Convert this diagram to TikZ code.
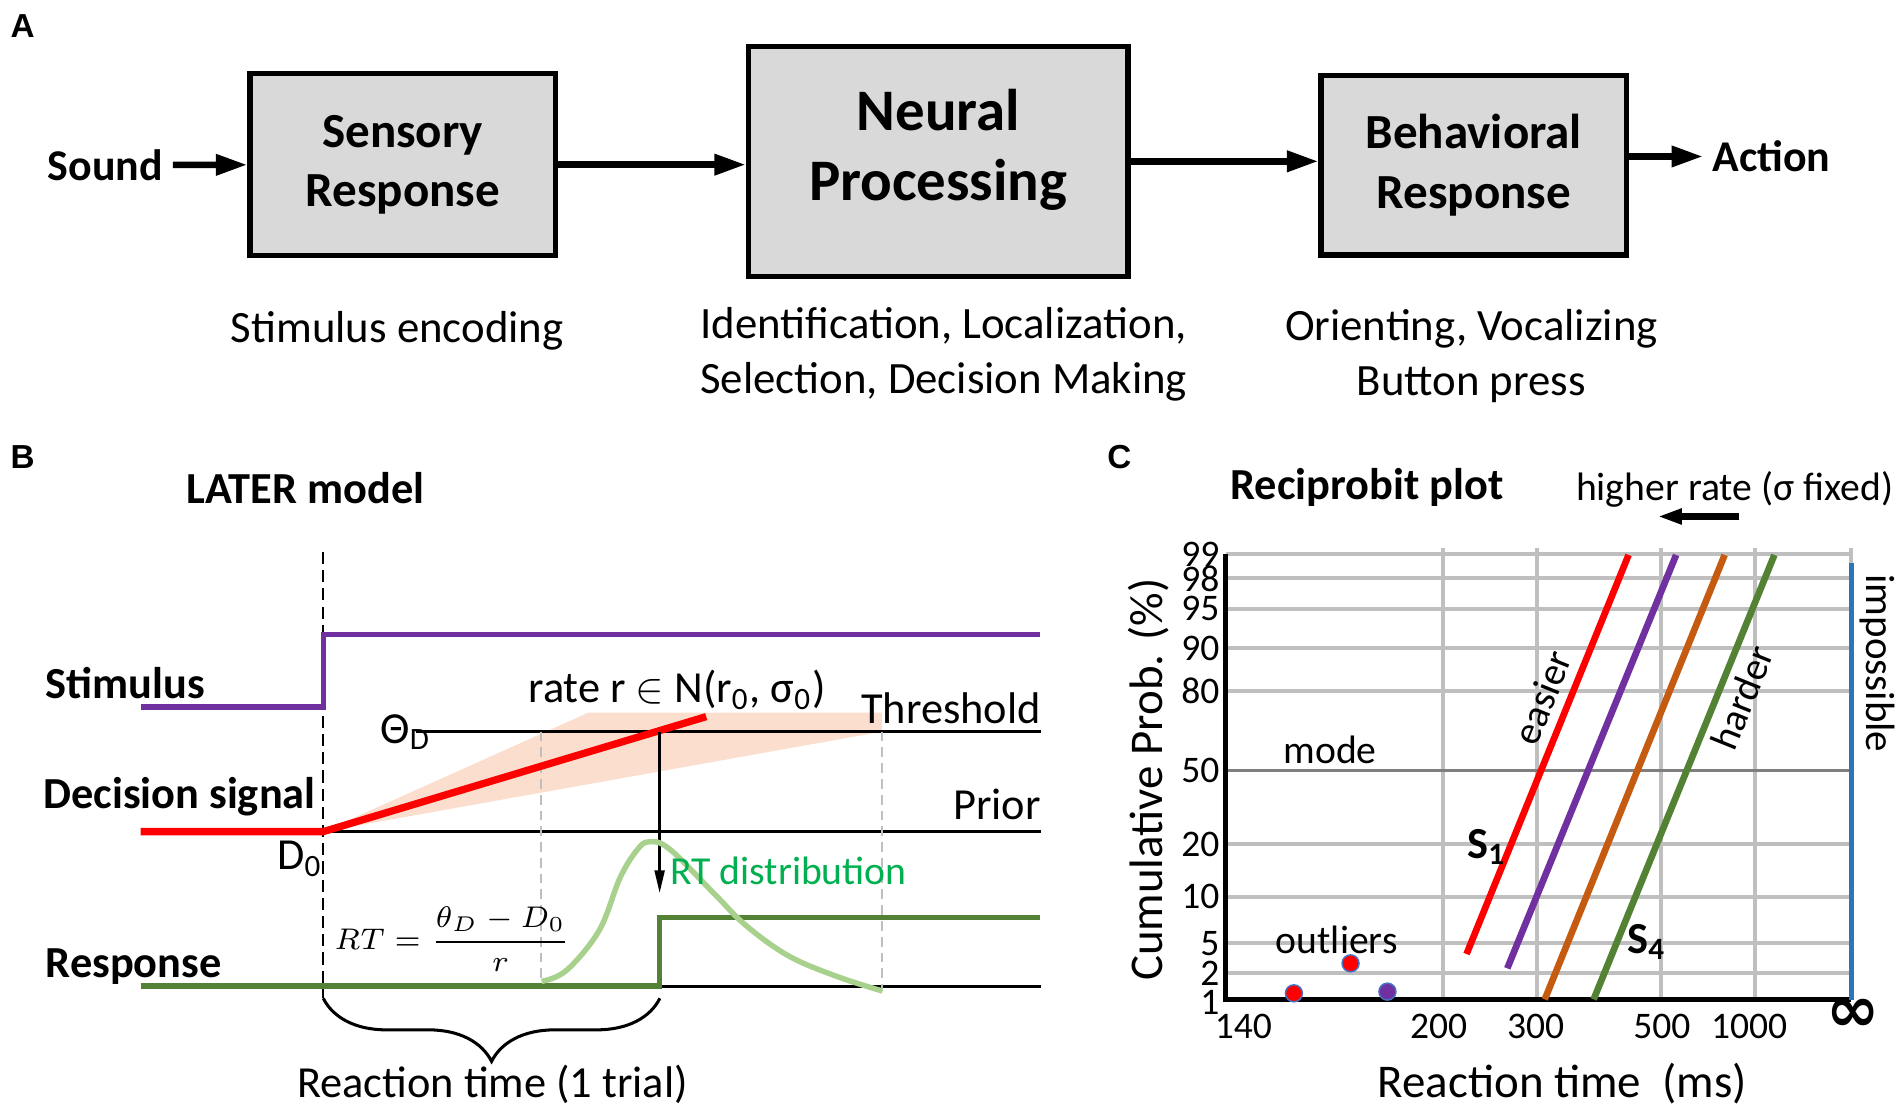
\documentclass[tikz,border=0pt]{standalone}
\usepackage{fontspec}
\setmainfont{Carlito}
\newfontfamily\panelfont{Liberation Sans}
\newfontfamily\symfont{DejaVu Sans}
\usetikzlibrary{arrows.meta,decorations.pathreplacing}

\definecolor{boxgray}{RGB}{217,217,217}
\definecolor{stimpurple}{RGB}{112,48,160}
\definecolor{sigred}{RGB}{255,0,0}
\definecolor{respgreen}{RGB}{84,130,53}
\definecolor{distgreen}{RGB}{169,209,142}
\definecolor{txtgreen}{RGB}{0,176,80}
\definecolor{fanpeach}{RGB}{251,222,205}
\definecolor{gridgray}{RGB}{191,191,191}
\definecolor{modegray}{RGB}{127,127,127}
\definecolor{curveorange}{RGB}{197,90,17}
\definecolor{impblue}{RGB}{46,117,182}
\definecolor{dotblue}{RGB}{68,114,196}

\newcommand{\fsz}[2]{\fontsize{#1}{#2}\selectfont}

\begin{document}
\begin{tikzpicture}[x=0.01cm, y=-0.01cm,
    every node/.style={inner sep=0pt, font=\fsz{10.4}{12.5}},
    txt/.style={font=\fsz{10.4}{12.5}},
    lbl/.style={font=\bfseries\fsz{10.4}{12.5}},
    stage/.style={draw, line width=0.045cm, fill=boxgray, align=center, font=\bfseries\fsz{11.5}{13.9}},
    flow/.style={-{Triangle[length=0.26cm, width=0.165cm]}, line width=0.055cm},
    caption/.style={align=center, font=\fsz{10.5}{13}},
    panel/.style={font=\panelfont\bfseries\fsz{7.8}{9}},
    trace/.style={line width=0.045cm},
    level/.style={line width=0.022cm},
    gridline/.style={gridgray, line width=0.033cm},
    tick/.style={font=\fsz{8.8}{10}},
    rtline/.style={line width=0.055cm}]

  \useasboundingbox (0,0) rectangle (1568,918.4);

  % Panel A: processing chain
  \node[panel] (labelA) at (18.75,21.3) {A};
  \node[stage, minimum width=2.515cm, minimum height=1.50cm] (sensory) at (332,135.75) {Sensory\\Response};
  \node[stage, minimum width=3.125cm, minimum height=1.895cm] (neural) at (773.5,133) {};
  \node[font=\bfseries\fsz{13.8}{16.2}, align=center] (neuraltext) at (773.5,123.5) {Neural\\Processing};
  \node[stage, minimum width=2.515cm, minimum height=1.475cm] (behav) at (1215,136.25) {Behavioral\\Response};
  \node[font=\bfseries\fsz{10.3}{12}, anchor=east, inner xsep=0.075cm] (sound) at (142.5,136) {Sound};
  \node[font=\bfseries\fsz{10.3}{12}, anchor=west, inner xsep=0.07cm] (action) at (1404,129) {Action};

  \draw[flow] (sound) -- (sensory);
  \draw[flow] (sensory.east) -- (sensory.east -| neural.west);
  \draw[flow] (neural.east) -- (neural.east -| behav.west);
  \draw[flow] (behav.east |- action.west) -- (action.west);

  \node[caption] (encoding) at (327.5,273) {Stimulus encoding};
  \node[caption] (tasks) at (778,292) {Identification, Localization,\\Selection, Decision Making};
  \node[caption] (outputs) at (1213,293.4) {Orienting, Vocalizing\\Button press};

  % Panel B: LATER model
  \node[panel] (labelB) at (18.75,377) {B};
  \node[lbl] (latertitle) at (252,402) {LATER model};

  % Spread of rates
  \fill[fanpeach] (266.5,685.6) -- (485,587.5) -- (727,587.5) -- (727,603.2) -- cycle;

  % Levels
  \draw[level] (343,603.2) -- (858,603.2);
  \draw[level] (266.5,685.6) -- (858,685.6);
  \draw[level] (543.8,813) -- (858,813);

  % Onset and range
  \draw[line width=0.02cm, dash pattern=on 0.1cm off 0.05cm] (266.5,455) -- (266.5,823);
  \draw[gridgray, line width=0.02cm, dash pattern=on 0.08cm off 0.05cm] (446,603.2) -- (446,813);
  \draw[gridgray, line width=0.02cm, dash pattern=on 0.08cm off 0.05cm] (727,603.2) -- (727,817);

  % Traces
  \draw[trace, stimpurple] (116,583) -- (266.5,583) -- (266.5,523) -- (857,523);
  \draw[trace, sigred, line width=0.06cm] (116,685.6) -- (266.5,685.6) -- (582.2,590.8);
  \draw[trace, respgreen] (116,813) -- (543.8,813) -- (543.8,756.5) -- (857,756.5);
  \draw[-{Triangle[length=0.19cm, width=0.08cm]}, line width=0.025cm] (543.8,603.2) -- (543.8,736.5);
  \draw[distgreen, line width=0.045cm] plot[smooth, tension=0.6] coordinates {(446.5,809) (467,800) (494,767) (511,724) (525,701) (535,694) (552,700) (590,738) (615,763) (650,788) (690,805) (727.5,817)};

  % Labels
  \node[lbl, anchor=west] (stimulus) at (37,563) {Stimulus};
  \node[lbl, anchor=west] (decision) at (35,657) {Decision signal};
  \node[lbl, anchor=west] (response) at (37,797) {Response};
  \node[txt, anchor=base west] (dzero) at (228,717) {D\textsubscript{0}};
  \node[txt, anchor=base west] (thetad) at (313,612.7) {Θ\textsubscript{D}};
  \node[txt, anchor=base east] (threshold) at (858.7,596.3) {Threshold};
  \node[txt, anchor=base east] (prior) at (858.7,676) {Prior};
  \node[txt, anchor=base west] (rate) at (435,579.3) {rate r $\in$ N(r\textsubscript{0}, σ\textsubscript{0})};
  \node[anchor=base west, font=\fsz{9.3}{11}, text=txtgreen] (rtdist) at (552,729.5) {RT distribution};
  \node[anchor=base west, font=\fsz{7.4}{9}] (rtformula) at (275,782.5) {$\displaystyle RT=\frac{\theta_D-D_0}{r}$};

  % Reaction time brace
  \draw[decorate, decoration={brace, amplitude=0.52cm}, line width=0.025cm] (544,823) -- (266.5,823);
  \node[txt] (rtlabel) at (406,894) {Reaction time (1 trial)};

  % Panel C: reciprobit plot
  \node[panel] (labelC) at (922.75,377) {C};
  \node[lbl] (recititle) at (1127,401.7) {Reciprobit plot};
  \node[font=\fsz{9.3}{11}] (faster) at (1430,403.5) {higher rate (σ fixed)};
  \coordinate (fastR) at (1434,425.8);
  \coordinate (fastL) at (1366.5,425.8);
  \draw[-{Triangle[length=0.2cm, width=0.12cm]}, line width=0.055cm] (fastR) -- (fastL);

  % Grid
  \foreach \p/\y in {99/456.7, 98/476.8, 95/502, 90/534.5, 80/569.4, 20/695.8, 10/739.2, 5/777.7, 2/802.4} {
    \draw[gridline] (1010.5,\y) -- (1526,\y);
    \node[tick, anchor=east] (ylab\p) at (1006,\y) {\p};
  }
  \foreach \t/\x in {200/1189.3, 300/1267.5, 500/1369.2, 1000/1447, inf/1526}
    \draw[gridline] (\x,452) -- (\x,822);
  \draw[modegray, line width=0.03cm] (1010.5,635.3) -- (1526,635.3);
  \node[tick, anchor=east] (ylab50) at (1006,635.3) {50};
  \node[tick, anchor=east] (ylab1) at (1006,826) {1};

  % Axes
  \draw[line width=0.045cm] (1010.5,456.7) -- (1010.5,824) -- (1526,824);
  \draw[impblue, line width=0.045cm] (1526.5,464.4) -- (1526.5,824);

  % Tick labels
  \foreach \t/\x in {140/1025, 200/1186, 300/1266, 500/1370, 1000/1442}
    \node[tick] (xlab\t) at (\x,846.4) {\t};
  \node[font=\symfont\bfseries\fsz{15}{17}] (xlabinf) at (1528,837) {∞};

  % Cumulative lines
  \draw[rtline, sigred] (1209,786.5) -- (1342.6,457.5);
  \draw[rtline, stimpurple] (1242.6,798.3) -- (1381.8,457.5);
  \draw[rtline, curveorange] (1273.5,823.9) -- (1421.8,457.5);
  \draw[rtline, respgreen] (1313.8,823.9) -- (1462.8,457.5);

  % Outliers
  \filldraw[fill=sigred, draw=dotblue, line width=0.012cm] (1066.7,818.9) circle[radius=0.07cm];
  \filldraw[fill=sigred, draw=dotblue, line width=0.012cm] (1113.4,794.2) circle[radius=0.07cm];
  \filldraw[fill=stimpurple, draw=dotblue, line width=0.012cm] (1143.8,817.5) circle[radius=0.07cm];

  % Plot labels
  \node[font=\fsz{9.3}{11}] (mode) at (1096.5,618.3) {mode};
  \node[font=\fsz{9.3}{11}] (outliers) at (1102,775) {outliers};
  \node[lbl, anchor=base west] (sone) at (1209,707.6) {S\textsubscript{1}};
  \node[lbl, anchor=base west] (sfour) at (1341,786) {S\textsubscript{4}};
  \node[font=\fsz{9.3}{11}, rotate=68] (easier) at (1271.5,575) {easier};
  \node[font=\fsz{9.3}{11}, rotate=68] (harder) at (1436,575) {harder};
  \node[font=\fsz{9.6}{11}, rotate=-90] (impossible) at (1547.5,547) {impossible};
  \node[font=\fsz{11}{13}, rotate=90] (ytitle) at (946.5,642.7) {Cumulative Prob. (\%)};
  \node[font=\fsz{11}{13}] (xtitle) at (1288,893) {Reaction time\ \ (ms)};
\end{tikzpicture}
\end{document}
